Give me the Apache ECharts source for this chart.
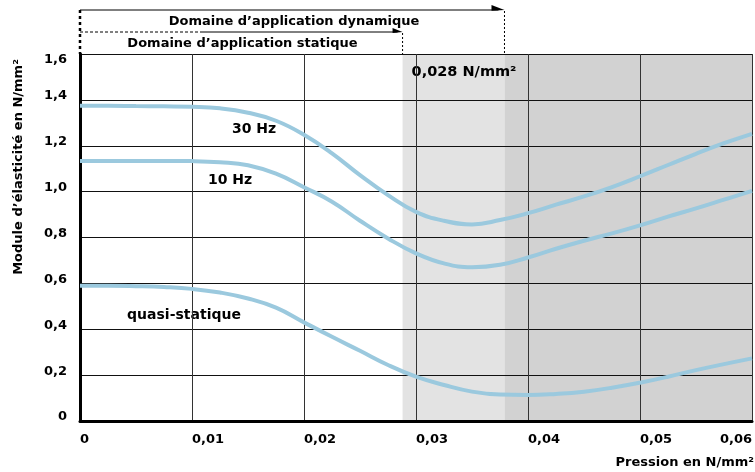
<!DOCTYPE html>
<html>
<head>
<meta charset="utf-8">
<script src="https://cdn.jsdelivr.net/npm/echarts@6/dist/echarts.min.js"></script>
<style>html,body{margin:0;padding:0;background:#fff}#c{width:755px;height:472px}</style>
</head>
<body>
<div id="c"></div>
<script>
// ---- data ----
const pressure = [0, 0.0025, 0.005, 0.0075, 0.01, 0.0125, 0.015, 0.0175, 0.02, 0.0225, 0.025, 0.0275, 0.03, 0.0325, 0.035, 0.0375, 0.04, 0.0425, 0.045, 0.0475, 0.05, 0.0525, 0.055, 0.0575, 0.06];
const modulus30Hz = [1.374, 1.374, 1.373, 1.372, 1.370, 1.363, 1.344, 1.309, 1.248, 1.167, 1.072, 0.985, 0.912, 0.873, 0.857, 0.876, 0.906, 0.943, 0.979, 1.020, 1.067, 1.116, 1.165, 1.211, 1.252];
const modulus10Hz = [1.133, 1.134, 1.134, 1.134, 1.133, 1.128, 1.115, 1.078, 1.019, 0.956, 0.873, 0.796, 0.731, 0.687, 0.670, 0.681, 0.713, 0.751, 0.786, 0.818, 0.853, 0.891, 0.927, 0.965, 1.003];
const modulusQuasi = [0.590, 0.590, 0.588, 0.584, 0.576, 0.560, 0.534, 0.494, 0.430, 0.367, 0.306, 0.244, 0.193, 0.157, 0.128, 0.115, 0.113, 0.118, 0.128, 0.145, 0.167, 0.193, 0.222, 0.248, 0.273];
const seriesNames = ['30 Hz', '10 Hz', 'quasi-statique'];
const staticLimit = 0.0288;
const dynamicLimit = 0.0379;
const limitLabel = '0,028 N/mm²';
const xTitle = 'Pression en N/mm²';
const yTitle = 'Module d’élasticité en N/mm²';
const dynTitle = 'Domaine d’application dynamique';
const statTitle = 'Domaine d’application statique';

const FONT = '"DejaVu Sans", sans-serif';
const CURVE = '#9bc9de';
const fmtX = v => v === 0 ? '0' : v.toFixed(2).replace('.', ',');
const fmtY = v => v === 0 ? '0' : v.toFixed(1).replace('.', ',');
const pairs = arr => pressure.map((p, i) => [p, arr[i]]);

const chart = echarts.init(document.getElementById('c'), null, {renderer: 'canvas'});
const lineSeries = (name, arr) => ({
  name, type: 'line', data: pairs(arr), smooth: 0.45, symbol: 'none', z: 5,
  lineStyle: {color: CURVE, width: 4}, silent: true
});
const option = {
  animation: false,
  grid: {left: 80, right: 1, top: 54, bottom: 51, containLabel: false},
  xAxis: {
    type: 'value', min: 0, max: 0.06, interval: 0.01, z: 3,
    axisLine: {show: true, onZero: false, lineStyle: {color: '#000', width: 3}},
    axisTick: {show: false},
    splitLine: {show: true, lineStyle: {color: '#333', width: 1}},
    axisLabel: {formatter: fmtX, fontFamily: FONT, fontWeight: 'bold', fontSize: 13, color: '#000',
      align: 'left', alignMaxLabel: 'right', margin: 12}
  },
  yAxis: {
    type: 'value', min: 0, max: 1.6, interval: 0.2, z: 3,
    axisLine: {show: true, onZero: false, lineStyle: {color: '#000', width: 3}},
    axisTick: {show: false},
    splitLine: {show: true, lineStyle: {color: '#111', width: 1}},
    axisLabel: {
      margin: 13, color: '#000', fontFamily: FONT, fontWeight: 'bold', fontSize: 13,
      formatter: v => (v >= 1.6 ? '{t|' : '{n|') + fmtY(v) + '}',
      rich: {
        t: {fontFamily: FONT, fontWeight: 'bold', fontSize: 13, color: '#000', padding: [12, 0, 0, 0]},
        n: {fontFamily: FONT, fontWeight: 'bold', fontSize: 13, color: '#000', padding: [0, 0, 8, 0]}
      }
    }
  },
  series: [
    {
      type: 'line', data: [], z: 1, silent: true,
      markArea: {
        silent: true, z: 1,
        data: [
          [{xAxis: staticLimit, itemStyle: {color: '#e3e3e3'},
            label: {show: true, formatter: limitLabel, position: [9, 11], color: '#000',
              fontFamily: FONT, fontWeight: 'bold', fontSize: 14.5}},
           {xAxis: dynamicLimit}],
          [{xAxis: dynamicLimit, itemStyle: {color: '#d2d2d2'}, label: {show: false}}, {xAxis: 0.06}]
        ]
      }
    },
    lineSeries(seriesNames[0], modulus30Hz),
    lineSeries(seriesNames[1], modulus10Hz),
    lineSeries(seriesNames[2], modulusQuasi)
  ]
};
chart.setOption(option);

const px = v => chart.convertToPixel({xAxisIndex: 0}, v);
const x0 = px(0), xs = px(staticLimit), xd = px(dynamicLimit);
const gridTop = chart.convertToPixel({yAxisIndex: 0}, 1.6);
const txt = (text, x, y, size, extra) => Object.assign({
  type: 'text', silent: true,
  style: {text, x, y, fill: '#000', font: 'bold ' + size + 'px ' + FONT, textAlign: 'center', textVerticalAlign: 'middle'}
}, extra || {});
const ln = (x1, y1, x2, y2, w, dash) => ({
  type: 'line', silent: true, shape: {x1, y1, x2, y2},
  style: {stroke: '#000', lineWidth: w, lineDash: dash || null}
});
chart.setOption({
  graphic: [
    ln(x0, 10, xd - 6, 10, 1),
    {type: 'polygon', silent: true, shape: {points: [[xd - 13, 5], [xd, 10], [xd - 13, 10.8]]}, style: {fill: '#000'}},
    ln(xd, 11, xd, gridTop, 1, [2, 2]),
    ln(x0, 10, x0, gridTop, 2.5, [3, 3]),
    ln(x0, 32, 203, 32, 1, [3, 2]),
    ln(203, 32, xs - 5, 32, 1),
    {type: 'polygon', silent: true, shape: {points: [[xs - 10, 28], [xs, 32], [xs - 10, 33]]}, style: {fill: '#000'}},
    ln(xs, 33, xs, gridTop, 1, [2, 2]),
    txt(dynTitle, 294, 21.5, 13),
    txt(statTitle, 242.5, 43.5, 13),
    txt(yTitle, 0, 0, 13, {rotation: Math.PI / 2, x: 19, y: 167}),
    txt(seriesNames[0], 254, 129, 14),
    txt(seriesNames[1], 230, 180, 14),
    txt(seriesNames[2], 184, 315, 14),
    {type: 'text', silent: true, style: {text: xTitle, x: 754, y: 463, fill: '#000', font: 'bold 13px ' + FONT, textAlign: 'right', textVerticalAlign: 'middle'}}
  ]
});
</script>
</body>
</html>
